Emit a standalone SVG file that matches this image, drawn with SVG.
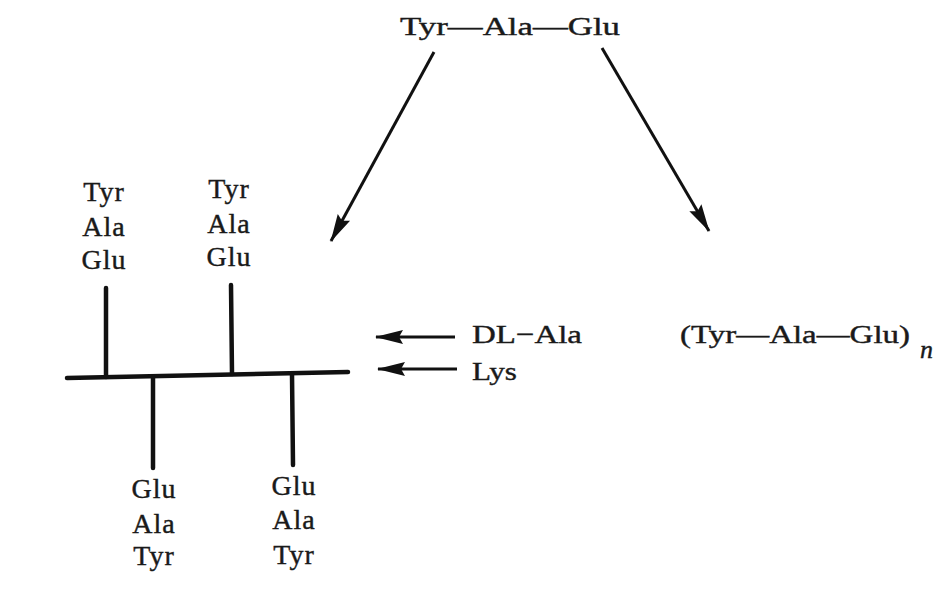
<svg xmlns="http://www.w3.org/2000/svg" width="944" height="592" viewBox="0 0 944 592">
<style>
text{font-family:"Liberation Serif","Times New Roman",serif;font-size:26px;fill:#1a1a1a;stroke:#1a1a1a;stroke-width:0.4}
.c{text-anchor:middle;font-size:28px;letter-spacing:1px}
.bar{stroke:#111;stroke-width:4.5;stroke-linecap:round;fill:none}
.arr{stroke:#111;stroke-width:3;fill:none}
</style>
<defs>
<marker id="ahl" viewBox="0 0 28 14" refX="27" refY="7" markerWidth="28" markerHeight="14" markerUnits="userSpaceOnUse" orient="auto" overflow="visible">
<path d="M0,0 L28,7 L0,14 L4,7 Z" fill="#111"/>
</marker>
</defs>
<rect width="944" height="592" fill="#fff"/>
<g id="top">
<text x="400" y="35" textLength="220" lengthAdjust="spacingAndGlyphs">Tyr—Ala—Glu</text>
</g>
<g id="connectors">
<line class="arr" x1="434" y1="52" x2="331" y2="241" marker-end="url(#ahl)"/>
<line class="arr" x1="602" y1="48" x2="709" y2="231" marker-end="url(#ahl)"/>
<line class="arr" x1="455" y1="337" x2="376" y2="337" marker-end="url(#ahl)"/>
<line class="arr" x1="457" y1="369" x2="378" y2="369" marker-end="url(#ahl)"/>
</g>
<g id="polymer">
<line class="bar" x1="67" y1="378" x2="348" y2="372"/>
<line class="bar" x1="106" y1="288" x2="106" y2="377"/>
<line class="bar" x1="231" y1="285" x2="232" y2="374"/>
<line class="bar" x1="153" y1="377" x2="153" y2="468"/>
<line class="bar" x1="292" y1="374" x2="293" y2="465"/>
</g>
<g id="chain1">
<text class="c" x="104" y="201">Tyr</text>
<text class="c" x="104" y="236">Ala</text>
<text class="c" x="104" y="269">Glu</text>
</g>
<g id="chain2">
<text class="c" x="229" y="198">Tyr</text>
<text class="c" x="229" y="233">Ala</text>
<text class="c" x="229" y="266">Glu</text>
</g>
<g id="chain3">
<text class="c" x="154" y="498">Glu</text>
<text class="c" x="154" y="533">Ala</text>
<text class="c" x="154" y="565">Tyr</text>
</g>
<g id="chain4">
<text class="c" x="294" y="495">Glu</text>
<text class="c" x="294" y="529">Ala</text>
<text class="c" x="294" y="564">Tyr</text>
</g>
<g id="labels">
<text x="472" y="343" textLength="110" lengthAdjust="spacingAndGlyphs">DL−Ala</text>
<text x="472" y="380" textLength="45" lengthAdjust="spacingAndGlyphs">Lys</text>
</g>
<g id="product">
<text x="680" y="343" textLength="230" lengthAdjust="spacingAndGlyphs">(Tyr—Ala—Glu)</text>
<text x="920" y="358" font-style="italic" font-size="20" stroke-width="0.3">n</text>
</g>
</svg>
